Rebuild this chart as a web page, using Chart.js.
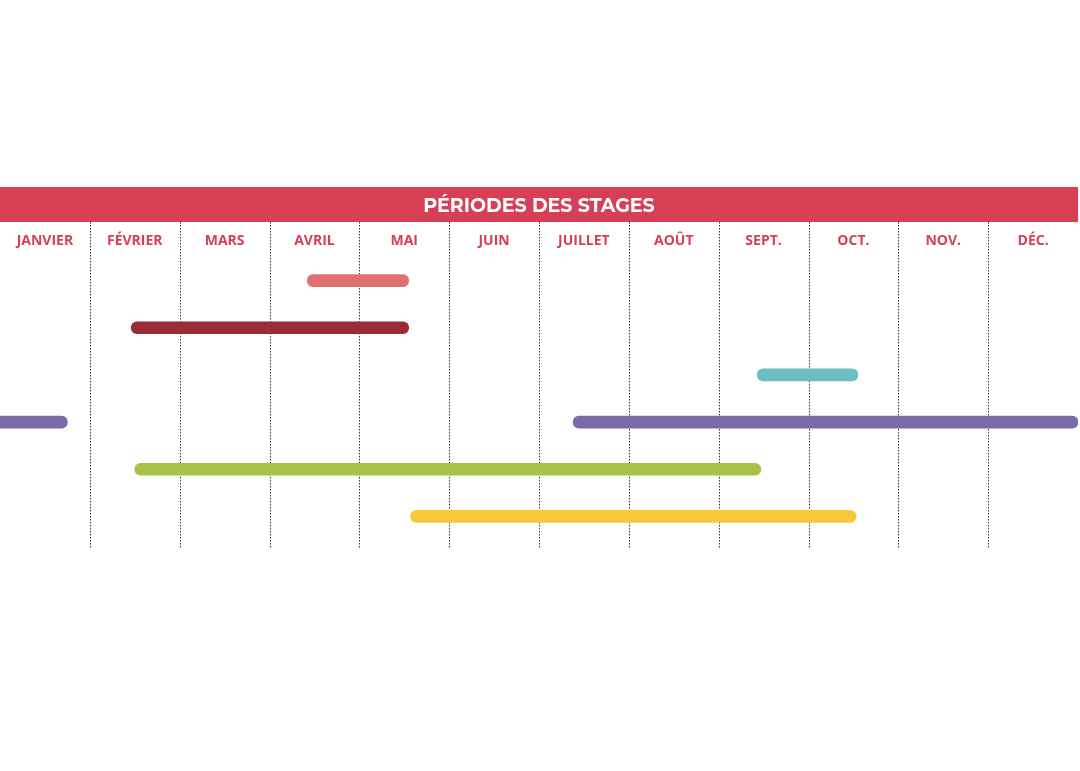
<!DOCTYPE html>
<html><head><meta charset="utf-8">
<script src="https://cdn.jsdelivr.net/npm/chart.js@4/dist/chart.umd.min.js"></script>
<style>html,body{margin:0;padding:0;background:#fff}#w{width:1080px;height:771px}</style>
</head><body><div id="w"><canvas id="c"></canvas></div>
<script>
const title = "PÉRIODES DES STAGES";
const months = ["JANVIER","FÉVRIER","MARS","AVRIL","MAI","JUIN","JUILLET","AOÛT","SEPT.","OCT.","NOV.","DÉC."];
const rows = ["r1","r2","r3","r4","r5","r6"];
const starts = [3.42, 1.46, 8.43, 6.38, 1.5, 4.57];
const ends   = [4.55, 4.55, 9.55, 12.0, 8.47, 9.53];
const extraStarts = [null, null, null, 0, null, null];
const extraEnds   = [null, null, null, 0.75, null, null];
const colors = ["#e07170","#982b36","#6dbdc4","#7a6ba9","#a9c245","#f6ca3b"];

const overlay = {
  id:'overlay',
  beforeDatasetsDraw(chart){
    const {ctx, scales:{x}} = chart;
    ctx.save();
    ctx.strokeStyle = '#333'; ctx.lineWidth = 1; ctx.setLineDash([1.5,1.5]);
    for(let i=1;i<12;i++){
      const px = Math.round(x.getPixelForValue(i))+0.5;
      ctx.beginPath(); ctx.moveTo(px,222); ctx.lineTo(px,548); ctx.stroke();
    }
    ctx.restore();
  },
  afterDraw(chart){
    const {ctx, scales:{x}} = chart;
    ctx.save();
    const x0 = x.getPixelForValue(0), x1 = x.getPixelForValue(12);
    ctx.fillStyle = '#d63f54';
    ctx.fillRect(x0,187,x1-x0,35);
    ctx.fillStyle = '#fff'; ctx.font = 'bold 19px Montserrat, "Open Sans", sans-serif';
    ctx.textAlign='center'; ctx.textBaseline='middle';
    ctx.fillText(title,(x0+x1)/2,206);
    ctx.fillStyle = '#d63f54'; ctx.font = 'bold 14px "Open Sans", sans-serif';
    months.forEach((m,i)=>ctx.fillText(m, x.getPixelForValue(i+0.5), 241));
    ctx.restore();
  }
};

new Chart(document.getElementById('c'),{
  type:'bar',
  data:{labels:rows,datasets:[
    {data:starts.map((s,i)=>[s,ends[i]]),backgroundColor:colors,borderColor:'#fff',borderWidth:0,borderRadius:7,borderSkipped:false,barThickness:12,grouped:false},
    {data:extraStarts.map((s,i)=>s===null?null:[s,extraEnds[i]]),backgroundColor:colors,borderRadius:{topLeft:0,bottomLeft:0,topRight:7,bottomRight:7},borderSkipped:false,barThickness:12,grouped:false}
  ]},
  options:{
    indexAxis:'y',responsive:true,maintainAspectRatio:false,animation:false,
    layout:{padding:{top:257,bottom:231,left:0,right:2}},
    plugins:{legend:{display:false},tooltip:{enabled:false}},
    scales:{
      x:{type:'linear',min:0,max:12,display:false},
      y:{type:'category',display:false}
    }
  },
  plugins:[overlay]
});
</script></body></html>
